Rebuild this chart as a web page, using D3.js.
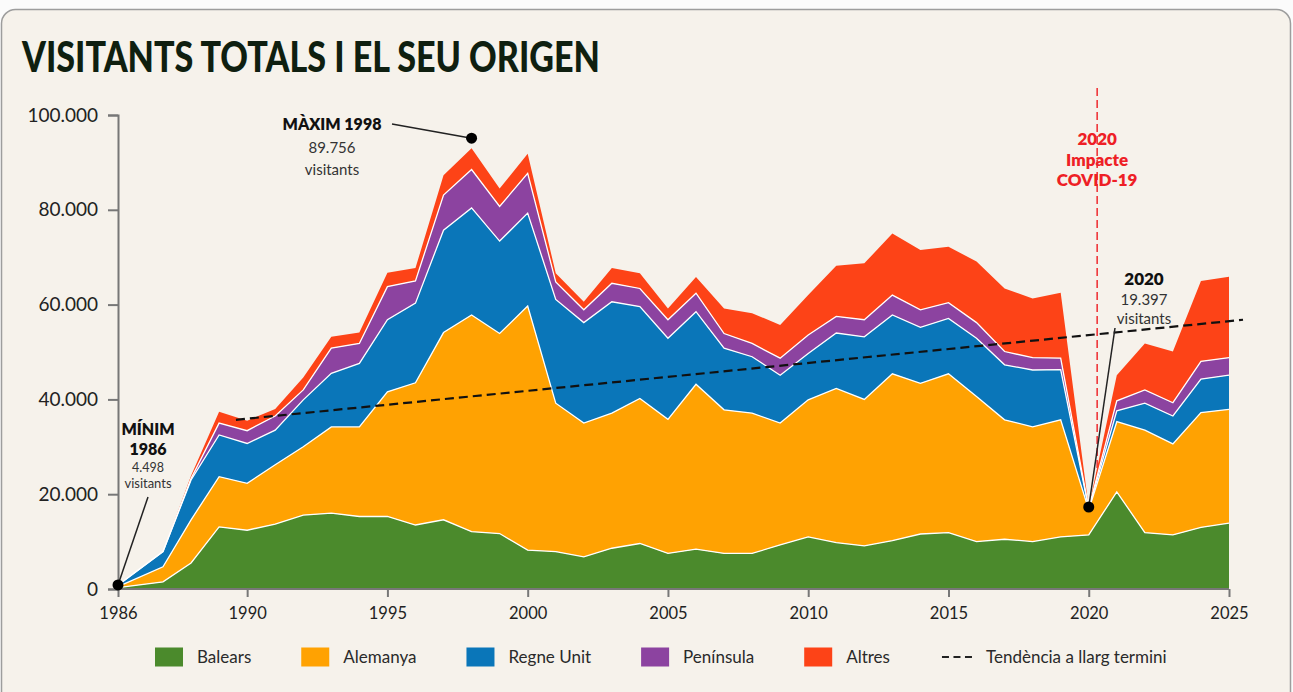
<!DOCTYPE html>
<html>
<head>
<meta charset="utf-8">
<script src="https://cdn.jsdelivr.net/npm/d3@7"></script>
<style>
body { margin: 0; background: #fbfbfb; }
svg { display: block; font-family: Lato, "Noto Sans", sans-serif; }
</style>
</head>
<body>
<svg id="container" width="1293" height="692"></svg>
<script>
// Visitors per year and origin
var years = [1986, 1987, 1988, 1989, 1990, 1991, 1992, 1993, 1994, 1995,
             1996, 1997, 1998, 1999, 2000, 2001, 2002, 2003, 2004, 2005,
             2006, 2007, 2008, 2009, 2010, 2011, 2012, 2013, 2014, 2015,
             2016, 2017, 2018, 2019, 2020, 2021, 2022, 2023, 2024, 2025];
var balears =   [300, 1500, 5500, 13100, 12400, 13700, 15600, 16000, 15300, 15300,
                 13500, 14600, 12100, 11700, 8200, 7900, 6800, 8600, 9600, 7500,
                 8400, 7500, 7500, 9300, 11000, 9800, 9100, 10200, 11600, 11900,
                 10000, 10500, 10000, 11000, 11400, 20500, 11900, 11400, 13000, 13900];
var alemanya =  [200, 3200, 9100, 10600, 9900, 12500, 14400, 18200, 18900, 26300,
                 30000, 39500, 45700, 42200, 51500, 31300, 28200, 28500, 30600, 28300,
                 34800, 30300, 29600, 25700, 28900, 32500, 30900, 35200, 31800, 33500,
                 30600, 25200, 24200, 24700, 5300, 14800, 21600, 19200, 24200, 24000];
var regneUnit = [300, 3200, 8400, 8800, 8400, 7300, 9900, 11300, 13400, 15200,
                 16800, 21600, 22600, 19500, 19600, 21900, 21200, 23500, 19400, 17100,
                 15300, 13000, 11900, 10100, 9800, 11700, 13200, 12400, 11800, 11700,
                 12300, 11600, 12000, 10600, 200, 2300, 5700, 5900, 7100, 7200];
var peninsula = [50, 0, 300, 2500, 2700, 3000, 2100, 5300, 4200, 7000,
                 4700, 7400, 8100, 7300, 8400, 3700, 2700, 3900, 3800, 3900,
                 3900, 3100, 2800, 3600, 3900, 3500, 3600, 4200, 3700, 3300,
                 3300, 2800, 2600, 2400, 100, 2100, 2800, 2800, 3700, 3700];
var altres =    [50, 0, 600, 2400, 2100, 1500, 2600, 2400, 2300, 2900,
                 2700, 4200, 4500, 3800, 4100, 1800, 1700, 3200, 3200, 2400,
                 3400, 5300, 6400, 7000, 8400, 10700, 11900, 13000, 12600, 11800,
                 12900, 13300, 12500, 13800, 200, 5400, 9800, 10800, 17000, 17100];

var seriesNames = ["Balears", "Alemanya", "Regne Unit", "Península", "Altres"];
var seriesColors = ["#4b8a2c", "#ffa202", "#0a76b9", "#8c43a0", "#fd4317"];

var xTicks = [1986, 1990, 1995, 2000, 2005, 2010, 2015, 2020, 2025];
var yTicks = [0, 20000, 40000, 60000, 80000, 100000];

// long-term trend, start and end
var trendYears = [1989.6, 2025.5];
var trendValues = [35700, 56800];

var covidYear = 2020.3;

var svg = d3.select("#container");
var W = 1293, H = 692;

// card background
svg.append("rect").attr("x", 1.5).attr("y", 9.5).attr("width", W - 4).attr("height", H + 20)
    .attr("rx", 14).attr("fill", "#f6f2eb").attr("stroke", "#9d9d9d").attr("stroke-width", 1.5);

svg.append("text").attr("x", 22).attr("y", 72)
    .attr("font-size", 42).attr("font-weight", 900).attr("fill", "#0f1f10")
    .attr("textLength", 578).attr("lengthAdjust", "spacingAndGlyphs")
    .text("VISITANTS TOTALS I EL SEU ORIGEN");

var x = d3.scaleLinear().domain([1986, 1987, 2025]).range([118, 163, 1229]);
var y = d3.scaleLinear().domain([0, 100000]).range([589, 115]);

var locale = d3.formatLocale({ decimal: ",", thousands: ".", grouping: [3], currency: ["", "€"] });
var fmt = locale.format(",d");

var table = years.map(function (yr, i) {
    return {
        year: yr,
        "Balears": balears[i],
        "Alemanya": alemanya[i],
        "Regne Unit": regneUnit[i],
        "Península": peninsula[i],
        "Altres": altres[i]
    };
});
var stacked = d3.stack().keys(seriesNames)(table);

// covid marker goes behind the areas
svg.append("line")
    .attr("x1", x(covidYear)).attr("x2", x(covidYear))
    .attr("y1", 88).attr("y2", y(0))
    .attr("stroke", "#ee2a2f").attr("stroke-width", 1.5).attr("stroke-dasharray", "8,4");

var area = d3.area()
    .x(function (d) { return x(d.data.year); })
    .y0(function (d) { return y(d[0]); })
    .y1(function (d) { return y(d[1]); });

svg.append("g").selectAll("path").data(stacked).join("path")
    .attr("d", area)
    .attr("fill", function (d, i) { return seriesColors[i]; });

var topLine = d3.line()
    .x(function (d) { return x(d.data.year); })
    .y(function (d) { return y(d[1]); });

svg.append("g").selectAll("path").data(stacked.slice(0, 4)).join("path")
    .attr("d", topLine)
    .attr("fill", "none").attr("stroke", "#fff").attr("stroke-width", 1.3);

// axes
var yAxis = svg.append("g").attr("transform", "translate(" + x(1986) + ",0)")
    .call(d3.axisLeft(y).tickValues(yTicks).tickFormat(fmt).tickSize(10).tickPadding(10));
var xAxis = svg.append("g").attr("transform", "translate(0," + y(0) + ")")
    .call(d3.axisBottom(x).tickValues(xTicks).tickFormat(d3.format("d")).tickSize(8).tickPadding(10));

[yAxis, xAxis].forEach(function (ax) {
    ax.select(".domain").attr("stroke", "#777").attr("stroke-width", 2);
    ax.selectAll(".tick line").attr("stroke", "#777").attr("stroke-width", 2);
    ax.selectAll("text").attr("fill", "#222").attr("font-family", "Lato, sans-serif");
});
yAxis.selectAll("text").attr("font-size", 19);
xAxis.selectAll("text").attr("font-size", 16.5);
xAxis.select(".domain").attr("d", "M" + x(1986) + ",0H" + x(2025));

// trend
svg.append("line")
    .attr("x1", x(trendYears[0])).attr("y1", y(trendValues[0]))
    .attr("x2", x(trendYears[1])).attr("y2", y(trendValues[1]))
    .attr("stroke", "#111").attr("stroke-width", 2.2).attr("stroke-dasharray", "9,5");

// annotations
function label(g, cx, lines) {
    lines.forEach(function (l) {
        g.append("text").attr("x", cx).attr("y", l.y).attr("text-anchor", "middle")
            .attr("font-size", l.size).attr("font-weight", l.bold ? 800 : 400)
            .attr("fill", l.color || (l.bold ? "#111" : "#333"))
            .text(l.t);
    });
}
var ann = svg.append("g");

// minimum 1986
ann.append("line").attr("x1", 148).attr("y1", 497).attr("x2", x(1986)).attr("y2", y(850))
    .attr("stroke", "#222").attr("stroke-width", 1.5);
label(ann, 148, [
    { t: "MÍNIM", y: 435, size: 16, bold: true },
    { t: "1986", y: 455, size: 16, bold: true },
    { t: "4.498", y: 472, size: 12.5 },
    { t: "visitants", y: 488, size: 13 }
]);
ann.append("circle").attr("cx", x(1986)).attr("cy", y(850)).attr("r", 5.5).attr("fill", "#000");

// maximum 1998
ann.append("line").attr("x1", 392).attr("y1", 124).attr("x2", x(1998)).attr("y2", y(95100))
    .attr("stroke", "#222").attr("stroke-width", 1.5);
label(ann, 332, [
    { t: "MÀXIM 1998", y: 130, size: 16, bold: true },
    { t: "89.756", y: 153, size: 15 },
    { t: "visitants", y: 175, size: 15 }
]);
ann.append("circle").attr("cx", x(1998)).attr("cy", y(95100)).attr("r", 5.5).attr("fill", "#000");

// 2020
ann.append("line").attr("x1", 1115).attr("y1", 328).attr("x2", x(2020)).attr("y2", y(17300))
    .attr("stroke", "#222").attr("stroke-width", 1.5);
label(ann, 1144, [
    { t: "2020", y: 285, size: 17, bold: true },
    { t: "19.397", y: 305, size: 15 },
    { t: "visitants", y: 324, size: 15 }
]);
ann.append("circle").attr("cx", x(2020)).attr("cy", y(17300)).attr("r", 5.5).attr("fill", "#000");

label(ann, x(covidYear), [
    { t: "2020", y: 145, size: 17, bold: true, color: "#ee1f26" },
    { t: "Impacte", y: 166, size: 17, bold: true, color: "#ee1f26" },
    { t: "COVID-19", y: 186, size: 17, bold: true, color: "#ee1f26" }
]);

// legend
var legend = svg.append("g").attr("transform", "translate(155,657)");
var lx = 0;
seriesNames.forEach(function (name, i) {
    legend.append("rect").attr("x", lx).attr("y", -9.5).attr("width", 28).attr("height", 19)
        .attr("fill", seriesColors[i]);
    var t = legend.append("text").attr("x", lx + 42).attr("y", 0).attr("dy", "0.35em")
        .attr("font-size", 17).attr("fill", "#2a2a2a").text(name);
    lx += 42 + t.node().getComputedTextLength() + 50;
});
legend.append("line").attr("x1", lx + 2).attr("x2", lx + 32).attr("y1", 0).attr("y2", 0)
    .attr("stroke", "#222").attr("stroke-width", 2).attr("stroke-dasharray", "7,4.5");
legend.append("text").attr("x", lx + 46).attr("y", 0).attr("dy", "0.35em")
    .attr("font-size", 17).attr("fill", "#2a2a2a").text("Tendència a llarg termini");
</script>
</body>
</html>
